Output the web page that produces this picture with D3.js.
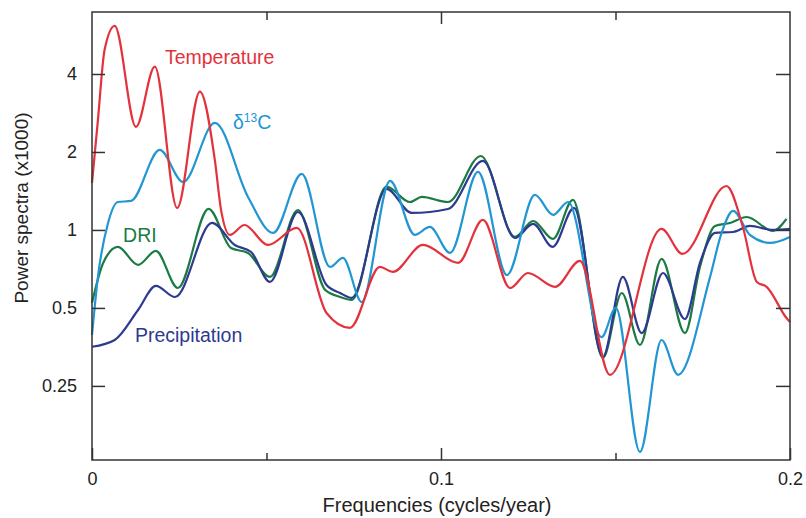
<!DOCTYPE html>
<html>
<head>
<meta charset="utf-8">
<script src="https://cdn.jsdelivr.net/npm/d3@7"></script>
<style>
  body { margin: 0; background: #fff; }
  svg { display: block; font-family: "Liberation Sans", Arial, Helvetica, sans-serif; }
  .tick text { fill: #222; }
</style>
</head>
<body>
<svg id="chart" width="806" height="518"></svg>
<script>
// [frequency (cycles/year), power (x1000)]
const temperature = [
  [0, 1.52], [0.0017, 2.66], [0.0036, 4.95], [0.0065, 6.13], [0.0126, 2.50],
  [0.0180, 4.27], [0.0244, 1.216], [0.0309, 3.42], [0.0352, 1.86], [0.0370, 1.19],
  [0.0395, 0.957], [0.0437, 1.045], [0.0504, 0.875], [0.0587, 1.018], [0.0672, 0.478],
  [0.0739, 0.419], [0.0825, 0.720], [0.0862, 0.689], [0.0948, 0.875], [0.1049, 0.746],
  [0.1120, 1.093], [0.1198, 0.597], [0.1249, 0.682], [0.1327, 0.603], [0.1398, 0.759],
  [0.1484, 0.276], [0.1632, 1.009], [0.1692, 0.808], [0.1818, 1.478], [0.1865, 1.027],
  [0.1905, 0.630], [0.1933, 0.603], [0.1990, 0.457], [0.2, 0.441]
];
const d13C = [
  [0, 0.393], [0.0017, 0.659], [0.0046, 1.064], [0.0074, 1.282], [0.0112, 1.294],
  [0.0194, 2.036], [0.0261, 1.532], [0.0352, 2.59], [0.0447, 1.341], [0.0519, 0.974],
  [0.0601, 1.645], [0.0682, 0.720], [0.0719, 0.780], [0.0773, 0.527], [0.0854, 1.546],
  [0.0925, 0.957], [0.0968, 1.027], [0.1026, 0.815], [0.1106, 1.675], [0.1189, 0.670],
  [0.1269, 1.365], [0.1321, 1.143], [0.1364, 1.282], [0.1460, 0.386], [0.1501, 0.500],
  [0.1570, 0.139], [0.1632, 0.376], [0.1679, 0.276], [0.1771, 0.659], [0.1804, 0.974],
  [0.1837, 1.184], [0.1885, 0.957], [0.1943, 0.891], [0.2, 0.940]
];
const dri = [
  [0, 0.523], [0.0032, 0.746], [0.0074, 0.860], [0.0132, 0.733], [0.0183, 0.830],
  [0.0246, 0.597], [0.0334, 1.205], [0.0398, 0.852], [0.0447, 0.815], [0.0510, 0.659],
  [0.0590, 1.194], [0.0668, 0.587], [0.0711, 0.551], [0.0744, 0.537], [0.0844, 1.469],
  [0.0911, 1.282], [0.0945, 1.341], [0.1020, 1.282], [0.1114, 1.930], [0.1212, 0.940],
  [0.1264, 1.083], [0.1321, 0.923], [0.1378, 1.306], [0.1464, 0.321], [0.1518, 0.571],
  [0.1570, 0.360], [0.1632, 0.773], [0.1699, 0.400], [0.1742, 0.720], [0.1785, 1.036],
  [0.1828, 1.064], [0.1876, 1.122], [0.1951, 0.991], [0.1990, 1.103]
];
const precipitation = [
  [0, 0.354], [0.0065, 0.376], [0.0132, 0.491], [0.0183, 0.608], [0.0238, 0.551],
  [0.0344, 1.064], [0.0409, 0.875], [0.0456, 0.822], [0.0510, 0.630], [0.0590, 1.173],
  [0.0672, 0.613], [0.0711, 0.571], [0.0744, 0.547], [0.0844, 1.440], [0.0916, 1.163],
  [0.1020, 1.205], [0.1120, 1.847], [0.1212, 0.931], [0.1264, 1.055], [0.1320, 0.860],
  [0.1381, 1.216], [0.1464, 0.324], [0.1521, 0.659], [0.1575, 0.400], [0.1636, 0.682],
  [0.1699, 0.453], [0.1742, 0.746], [0.1785, 0.974], [0.1837, 0.982], [0.1885, 1.036],
  [0.1951, 1.000], [0.2, 1.009]
];

const xTicks = [0, 0.1, 0.2];
const xMinorTicks = [0.05, 0.15];
const yTicks = [0.25, 0.5, 1, 2, 4];

const series = [
  { name: "DRI", data: dri, color: "#1c7a44" },
  { name: "Precipitation", data: precipitation, color: "#2c3a8f" },
  { name: "d13C", data: d13C, color: "#2196d3" },
  { name: "Temperature", data: temperature, color: "#e3323c" }
];

const m = { left: 92, right: 790, top: 12, bottom: 460 };
const svg = d3.select("#chart");

const x = d3.scaleLinear().domain([0, 0.2]).range([m.left, m.right]);
const y = d3.scaleLog().base(2).domain([0.1294, 6.94]).range([m.bottom, m.top]);

const line = d3.line()
  .x(d => x(d[0]))
  .y(d => y(d[1]))
  .curve(d3.curveMonotoneX);

svg.append("g")
  .selectAll("path")
  .data(series)
  .join("path")
  .attr("fill", "none")
  .attr("stroke", d => d.color)
  .attr("stroke-width", 2.2)
  .attr("stroke-linejoin", "round")
  .attr("d", d => line(d.data));

// frame
svg.append("rect")
  .attr("x", m.left).attr("y", m.top)
  .attr("width", m.right - m.left).attr("height", m.bottom - m.top)
  .attr("fill", "none").attr("stroke", "#333").attr("stroke-width", 1.5);

const fmtY = d => d === 0.25 ? "0.25" : d === 0.5 ? "0.5" : String(d);

const yAxis = svg.append("g")
  .attr("transform", `translate(${m.left},0)`)
  .call(d3.axisLeft(y).tickValues(yTicks).tickFormat(fmtY).tickSize(-13).tickPadding(15));
yAxis.selectAll("text").attr("font-size", 18);

svg.append("g")
  .attr("transform", `translate(${m.right},0)`)
  .call(d3.axisRight(y).tickValues(yTicks).tickFormat("").tickSize(-14));

const xAxis = svg.append("g")
  .attr("transform", `translate(0,${m.bottom})`)
  .call(d3.axisBottom(x).tickValues(xTicks).tickFormat(d => d === 0 ? "0" : d3.format(".1f")(d)).tickSize(-12).tickPadding(12));
xAxis.selectAll("text").attr("font-size", 18);

svg.append("g")
  .attr("transform", `translate(0,${m.bottom})`)
  .call(d3.axisBottom(x).tickValues(xMinorTicks).tickFormat("").tickSize(-7));

svg.append("g")
  .attr("transform", `translate(0,${m.top})`)
  .call(d3.axisTop(x).tickValues([0.1]).tickFormat("").tickSize(-12));
svg.append("g")
  .attr("transform", `translate(0,${m.top})`)
  .call(d3.axisTop(x).tickValues(xMinorTicks).tickFormat("").tickSize(-8));

svg.selectAll(".domain").remove();
svg.selectAll(".tick line").attr("stroke", "#333").attr("stroke-width", 1.5);

// axis titles
svg.append("text")
  .attr("x", 437).attr("y", 512)
  .attr("text-anchor", "middle")
  .attr("font-size", 20).attr("fill", "#222")
  .text("Frequencies (cycles/year)");

svg.append("text")
  .attr("transform", "translate(28,208) rotate(-90)")
  .attr("text-anchor", "middle")
  .attr("font-size", 19).attr("fill", "#222")
  .text("Power spectra (x1000)");

// series labels
const lab = (f, v, color, txt) => svg.append("text")
  .attr("x", x(f)).attr("y", y(v))
  .attr("font-size", 19.5).attr("fill", color)
  .text(txt);

lab(0.0209, 4.37, "#e3323c", "Temperature");
lab(0.0089, 0.899, "#1c7a44", "DRI");
lab(0.0123, 0.369, "#2c3a8f", "Precipitation");
const dl = lab(0.0404, 2.45, "#2196d3", "δ");
dl.append("tspan").attr("font-size", 12).attr("dy", -7).text("13");
dl.append("tspan").attr("dy", 7).text("C");
</script>
</body>
</html>
